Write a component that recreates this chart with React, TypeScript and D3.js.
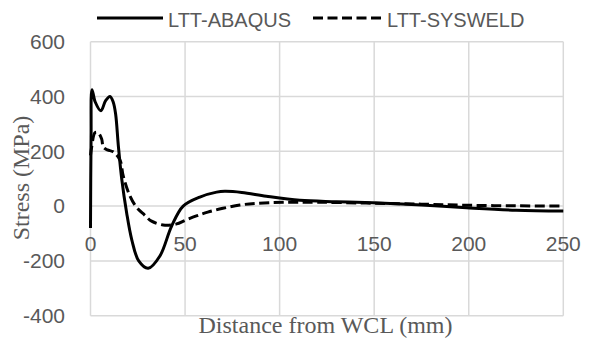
import React from "react";
import * as d3 from "d3";

const xTicks = [0, 50, 100, 150, 200, 250];
const yTicks = [-400, -200, 0, 200, 400, 600];
const seriesNames = ["LTT-ABAQUS", "LTT-SYSWELD"];

const abaqusX = [0, 0.3, 0.8, 2.5, 5.5, 8, 10.3, 12, 13.3, 14.7, 16.5, 19.1, 21.8, 25.5, 30.5, 36.7, 42.9, 49, 57.8, 66.7, 71, 80, 93, 110.7, 130, 149.4, 175, 198.8, 225, 250];
const abaqusY = [-80, 250, 425, 380, 348, 385, 400, 380, 335, 222, 100, -24, -122, -200, -227, -182, -73, 0, 33, 51, 54, 50, 36, 21, 16, 12, 4, -6, -15, -18];

const syswX = [0, 0.6, 2.4, 4, 5.9, 6.8, 9, 12, 15.6, 17.3, 20.9, 24.4, 28.5, 32.3, 39.4, 45.5, 50, 56, 62, 70, 79, 88, 101.9, 120, 146, 175, 198.8, 225, 250];
const syswY = [185, 215, 268, 268, 245, 215, 205, 198, 168, 110, 36, -5, -32, -55, -70, -65, -52, -36, -22, -8, 4, 10, 14, 14, 11, 7, 3, 1, 0];

const W = 589, H = 340;
const M = { left: 90.5, right: 589 - 563.3, top: 41.7, bottom: 340 - 315.7 };

export default function App() {
  const x = d3.scaleLinear().domain([0, 250]).range([M.left, W - M.right]);
  const y = d3.scaleLinear().domain([-400, 600]).range([H - M.bottom, M.top]);
  const line = d3
    .line<[number, number]>()
    .x((d) => x(d[0]))
    .y((d) => y(d[1]))
    .curve(d3.curveCatmullRom.alpha(0.5));
  const aData: [number, number][] = abaqusX.map((v, i) => [v, abaqusY[i]]);
  const sData: [number, number][] = syswX.map((v, i) => [v, syswY[i]]);
  const tickFont = "'Liberation Sans', Arial, sans-serif";
  const serif = "'Liberation Serif', 'Times New Roman', serif";
  const grey = "#595959";
  const grid = "#d9d9d9";
  return (
    <svg width={W} height={H} style={{ position: "absolute", left: 0, top: 0, background: "#fff" }}>
      <rect width={W} height={H} fill="#fff" />
      {yTicks.map((t) => (
        <line key={"gy" + t} x1={x(0)} x2={x(250)} y1={y(t)} y2={y(t)} stroke={grid} strokeWidth={1.5} />
      ))}
      {xTicks.map((t) => (
        <line key={"gx" + t} x1={x(t)} x2={x(t)} y1={y(-400)} y2={y(600)} stroke={grid} strokeWidth={1.5} />
      ))}
      {yTicks.map((t) => (
        <text key={"ty" + t} x={65} y={y(t)} dy="0.35em" textAnchor="end" fontFamily={tickFont} fontSize={21} fill={grey}>
          {t}
        </text>
      ))}
      {xTicks.map((t) => (
        <text key={"tx" + t} x={x(t)} y={y(0) + 45} textAnchor="middle" fontFamily={tickFont} fontSize={21} fill={grey}>
          {t}
        </text>
      ))}
      <path d={line(sData) || ""} fill="none" stroke="#000" strokeWidth={3} strokeDasharray="10,4.5" />
      <path d={line(aData) || ""} fill="none" stroke="#000" strokeWidth={3} />
      <text transform={`translate(29,178) rotate(-90)`} textAnchor="middle" fontFamily={serif} fontSize={24} fill={grey}>
        Stress (MPa)
      </text>
      <text x={325.5} y={333} textAnchor="middle" fontFamily={serif} fontSize={24} fill={grey}>
        Distance from WCL (mm)
      </text>
      <g>
        <line x1={97} x2={163} y1={18} y2={18} stroke="#000" strokeWidth={3} />
        <text x={168} y={27} fontFamily={tickFont} fontSize={20} fill={grey}>
          {seriesNames[0]}
        </text>
        <line x1={313} x2={385} y1={18} y2={18} stroke="#000" strokeWidth={3} strokeDasharray="10,4.5" />
        <text x={387} y={27} fontFamily={tickFont} fontSize={20} fill={grey}>
          {seriesNames[1]}
        </text>
      </g>
    </svg>
  );
}
